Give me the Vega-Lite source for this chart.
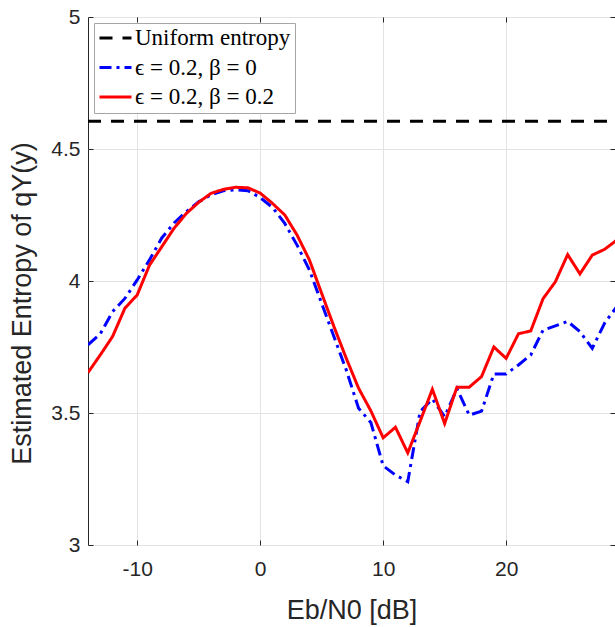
{
  "$schema": "https://vega.github.io/schema/vega-lite/v6.json",
  "width": 527,
  "height": 528,
  "autosize": {"type": "none"},
  "padding": {"left": 88, "top": 17, "right": 0, "bottom": 82},
  "background": "white",
  "config": {
    "view": {"stroke": "#262626", "strokeWidth": 1},
    "font": "Liberation Sans",
    "axis": {
      "domain": false,
      "gridColor": "#e3e3e3",
      "gridWidth": 1,
      "tickColor": "#262626",
      "tickSize": -5,
      "labelColor": "#262626",
      "labelFont": "Liberation Sans",
      "labelFontSize": 21,
      "titleColor": "#262626",
      "titleFont": "Liberation Sans",
      "titleFontSize": 27,
      "titleFontWeight": "normal"
    }
  },
  "datasets": {
    "curves": [
      {"x": -14, "y": 4.605, "series": "Uniform entropy"},
      {"x": 29, "y": 4.605, "series": "Uniform entropy"},
      {"x": -14, "y": 3.758, "series": "ϵ = 0.2, β = 0"},
      {"x": -13, "y": 3.80, "series": "ϵ = 0.2, β = 0"},
      {"x": -12, "y": 3.884, "series": "ϵ = 0.2, β = 0"},
      {"x": -11, "y": 3.934, "series": "ϵ = 0.2, β = 0"},
      {"x": -10, "y": 4.004, "series": "ϵ = 0.2, β = 0"},
      {"x": -9, "y": 4.08, "series": "ϵ = 0.2, β = 0"},
      {"x": -8, "y": 4.163, "series": "ϵ = 0.2, β = 0"},
      {"x": -7, "y": 4.22, "series": "ϵ = 0.2, β = 0"},
      {"x": -6, "y": 4.263, "series": "ϵ = 0.2, β = 0"},
      {"x": -5, "y": 4.30, "series": "ϵ = 0.2, β = 0"},
      {"x": -4, "y": 4.326, "series": "ϵ = 0.2, β = 0"},
      {"x": -3, "y": 4.342, "series": "ϵ = 0.2, β = 0"},
      {"x": -2, "y": 4.345, "series": "ϵ = 0.2, β = 0"},
      {"x": -1, "y": 4.342, "series": "ϵ = 0.2, β = 0"},
      {"x": 0, "y": 4.316, "series": "ϵ = 0.2, β = 0"},
      {"x": 1, "y": 4.279, "series": "ϵ = 0.2, β = 0"},
      {"x": 2, "y": 4.218, "series": "ϵ = 0.2, β = 0"},
      {"x": 3, "y": 4.136, "series": "ϵ = 0.2, β = 0"},
      {"x": 4, "y": 4.042, "series": "ϵ = 0.2, β = 0"},
      {"x": 5, "y": 3.915, "series": "ϵ = 0.2, β = 0"},
      {"x": 6, "y": 3.789, "series": "ϵ = 0.2, β = 0"},
      {"x": 7, "y": 3.663, "series": "ϵ = 0.2, β = 0"},
      {"x": 8, "y": 3.518, "series": "ϵ = 0.2, β = 0"},
      {"x": 9, "y": 3.464, "series": "ϵ = 0.2, β = 0"},
      {"x": 10, "y": 3.30, "series": "ϵ = 0.2, β = 0"},
      {"x": 11, "y": 3.265, "series": "ϵ = 0.2, β = 0"},
      {"x": 12, "y": 3.24, "series": "ϵ = 0.2, β = 0"},
      {"x": 13, "y": 3.505, "series": "ϵ = 0.2, β = 0"},
      {"x": 14, "y": 3.553, "series": "ϵ = 0.2, β = 0"},
      {"x": 15, "y": 3.486, "series": "ϵ = 0.2, β = 0"},
      {"x": 16, "y": 3.592, "series": "ϵ = 0.2, β = 0"},
      {"x": 17, "y": 3.492, "series": "ϵ = 0.2, β = 0"},
      {"x": 18, "y": 3.507, "series": "ϵ = 0.2, β = 0"},
      {"x": 19, "y": 3.648, "series": "ϵ = 0.2, β = 0"},
      {"x": 20, "y": 3.648, "series": "ϵ = 0.2, β = 0"},
      {"x": 21, "y": 3.682, "series": "ϵ = 0.2, β = 0"},
      {"x": 22, "y": 3.72, "series": "ϵ = 0.2, β = 0"},
      {"x": 23, "y": 3.814, "series": "ϵ = 0.2, β = 0"},
      {"x": 24, "y": 3.83, "series": "ϵ = 0.2, β = 0"},
      {"x": 25, "y": 3.847, "series": "ϵ = 0.2, β = 0"},
      {"x": 26, "y": 3.808, "series": "ϵ = 0.2, β = 0"},
      {"x": 27, "y": 3.745, "series": "ϵ = 0.2, β = 0"},
      {"x": 28, "y": 3.84, "series": "ϵ = 0.2, β = 0"},
      {"x": 29, "y": 3.903, "series": "ϵ = 0.2, β = 0"},
      {"x": -14, "y": 3.653, "series": "ϵ = 0.2, β = 0.2"},
      {"x": -13, "y": 3.72, "series": "ϵ = 0.2, β = 0.2"},
      {"x": -12, "y": 3.79, "series": "ϵ = 0.2, β = 0.2"},
      {"x": -11, "y": 3.897, "series": "ϵ = 0.2, β = 0.2"},
      {"x": -10, "y": 3.947, "series": "ϵ = 0.2, β = 0.2"},
      {"x": -9, "y": 4.06, "series": "ϵ = 0.2, β = 0.2"},
      {"x": -8, "y": 4.13, "series": "ϵ = 0.2, β = 0.2"},
      {"x": -7, "y": 4.20, "series": "ϵ = 0.2, β = 0.2"},
      {"x": -6, "y": 4.256, "series": "ϵ = 0.2, β = 0.2"},
      {"x": -5, "y": 4.298, "series": "ϵ = 0.2, β = 0.2"},
      {"x": -4, "y": 4.332, "series": "ϵ = 0.2, β = 0.2"},
      {"x": -3, "y": 4.347, "series": "ϵ = 0.2, β = 0.2"},
      {"x": -2, "y": 4.355, "series": "ϵ = 0.2, β = 0.2"},
      {"x": -1, "y": 4.353, "series": "ϵ = 0.2, β = 0.2"},
      {"x": 0, "y": 4.333, "series": "ϵ = 0.2, β = 0.2"},
      {"x": 1, "y": 4.294, "series": "ϵ = 0.2, β = 0.2"},
      {"x": 2, "y": 4.25, "series": "ϵ = 0.2, β = 0.2"},
      {"x": 3, "y": 4.174, "series": "ϵ = 0.2, β = 0.2"},
      {"x": 4, "y": 4.08, "series": "ϵ = 0.2, β = 0.2"},
      {"x": 5, "y": 3.953, "series": "ϵ = 0.2, β = 0.2"},
      {"x": 6, "y": 3.827, "series": "ϵ = 0.2, β = 0.2"},
      {"x": 7, "y": 3.707, "series": "ϵ = 0.2, β = 0.2"},
      {"x": 8, "y": 3.594, "series": "ϵ = 0.2, β = 0.2"},
      {"x": 9, "y": 3.508, "series": "ϵ = 0.2, β = 0.2"},
      {"x": 10, "y": 3.406, "series": "ϵ = 0.2, β = 0.2"},
      {"x": 11, "y": 3.446, "series": "ϵ = 0.2, β = 0.2"},
      {"x": 12, "y": 3.349, "series": "ϵ = 0.2, β = 0.2"},
      {"x": 13, "y": 3.468, "series": "ϵ = 0.2, β = 0.2"},
      {"x": 14, "y": 3.59, "series": "ϵ = 0.2, β = 0.2"},
      {"x": 15, "y": 3.46, "series": "ϵ = 0.2, β = 0.2"},
      {"x": 16, "y": 3.598, "series": "ϵ = 0.2, β = 0.2"},
      {"x": 17, "y": 3.598, "series": "ϵ = 0.2, β = 0.2"},
      {"x": 18, "y": 3.638, "series": "ϵ = 0.2, β = 0.2"},
      {"x": 19, "y": 3.75, "series": "ϵ = 0.2, β = 0.2"},
      {"x": 20, "y": 3.707, "series": "ϵ = 0.2, β = 0.2"},
      {"x": 21, "y": 3.80, "series": "ϵ = 0.2, β = 0.2"},
      {"x": 22, "y": 3.811, "series": "ϵ = 0.2, β = 0.2"},
      {"x": 23, "y": 3.933, "series": "ϵ = 0.2, β = 0.2"},
      {"x": 24, "y": 3.997, "series": "ϵ = 0.2, β = 0.2"},
      {"x": 25, "y": 4.10, "series": "ϵ = 0.2, β = 0.2"},
      {"x": 26, "y": 4.027, "series": "ϵ = 0.2, β = 0.2"},
      {"x": 27, "y": 4.098, "series": "ϵ = 0.2, β = 0.2"},
      {"x": 28, "y": 4.12, "series": "ϵ = 0.2, β = 0.2"},
      {"x": 29, "y": 4.155, "series": "ϵ = 0.2, β = 0.2"}
    ]
  },
  "data": {"name": "curves"},
  "layer": [
    {
      "mark": {"type": "line", "strokeWidth": 3, "clip": true},
      "encoding": {
        "x": {
          "field": "x", "type": "quantitative",
          "scale": {"domain": [-14, 28.85], "nice": false, "zero": false},
          "axis": {"orient": "bottom", "values": [-10, 0, 10, 20], "labelExpr": "toString(datum.value)", "title": "Eb/N0 [dB]", "labelPadding": 18, "titleY": 73, "titleBaseline": "alphabetic"}
        },
        "y": {
          "field": "y", "type": "quantitative",
          "scale": {"domain": [3, 5], "nice": false, "zero": false},
          "axis": {"orient": "left", "values": [3, 3.5, 4, 4.5, 5], "labelExpr": "toString(datum.value)", "title": "Estimated Entropy of qY(y)", "labelPadding": 13, "titleX": -52, "titleY": 286}
        },
        "color": {
          "field": "series", "type": "nominal",
          "scale": {"domain": ["Uniform entropy", "ϵ = 0.2, β = 0", "ϵ = 0.2, β = 0.2"], "range": ["#000000", "#0000ff", "#ff0000"]},
          "legend": {
            "title": null, "orient": "none", "legendX": 6, "legendY": 6,
            "symbolType": "stroke", "symbolSize": 1024, "symbolStrokeWidth": 3,
            "clipHeight": 22, "rowPadding": 6.5, "padding": 4, "labelOffset": 2,
            "labelFont": "Liberation Serif", "labelFontSize": 23, "labelColor": "#000000",
            "fillColor": "white", "strokeColor": "#a6a6a6", "cornerRadius": 0
          }
        },
        "strokeDash": {
          "field": "series", "type": "nominal",
          "scale": {"domain": ["Uniform entropy", "ϵ = 0.2, β = 0", "ϵ = 0.2, β = 0.2"], "range": [[13, 10], [12, 5, 3, 5], [1, 0]]},
          "legend": {
            "title": null, "orient": "none", "legendX": 6, "legendY": 6,
            "symbolType": "stroke", "symbolSize": 1024, "symbolStrokeWidth": 3,
            "clipHeight": 22, "rowPadding": 6.5, "padding": 4, "labelOffset": 2,
            "labelFont": "Liberation Serif", "labelFontSize": 23, "labelColor": "#000000",
            "fillColor": "white", "strokeColor": "#a6a6a6", "cornerRadius": 0
          }
        }
      }
    },
    {
      "mark": {"type": "line", "opacity": 0, "clip": true},
      "encoding": {
        "x": {"field": "x", "type": "quantitative", "axis": {"orient": "top", "values": [-10, 0, 10, 20], "labels": false, "grid": false, "title": null}},
        "y": {"field": "y", "type": "quantitative", "axis": {"orient": "right", "values": [3, 3.5, 4, 4.5, 5], "labels": false, "grid": false, "title": null}},
        "detail": {"field": "series"}
      }
    }
  ],
  "resolve": {"axis": {"x": "independent", "y": "independent"}}
}
